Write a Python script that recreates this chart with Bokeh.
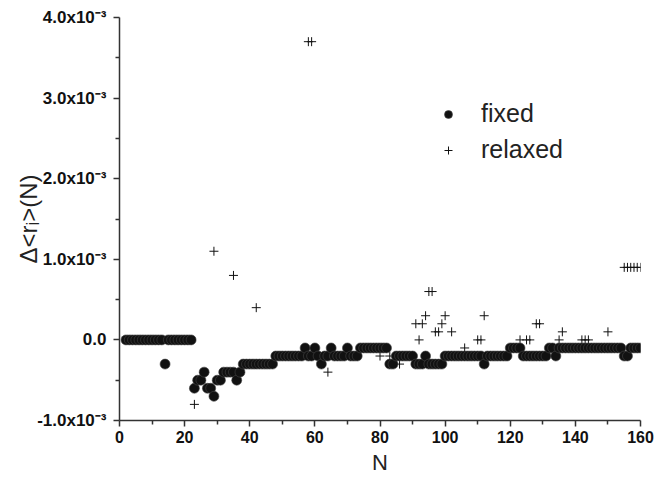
from bokeh.plotting import figure
from bokeh.models import FixedTicker, Legend, LegendItem
from bokeh.embed import file_html
from bokeh.resources import INLINE

# ---- data (values in units of 1e-3) ----
fixed_n = list(range(2, 161))
fixed_v = [
    0, 0, 0, 0, 0, 0, 0, 0, 0, 0, 0, 0,          # 2-13
    -0.3,                                          # 14
    0, 0, 0, 0, 0, 0, 0, 0,                        # 15-22
    -0.6, -0.5, -0.5, -0.4, -0.6, -0.6, -0.7,      # 23-29
    -0.5, -0.5, -0.4, -0.4, -0.4, -0.4, -0.5, -0.4,  # 30-37
    -0.3, -0.3, -0.3, -0.3, -0.3, -0.3, -0.3, -0.3, -0.3, -0.3,  # 38-47
    -0.2, -0.2, -0.2, -0.2, -0.2, -0.2, -0.2, -0.2, -0.2,  # 48-56
    -0.1, -0.2, -0.2, -0.1, -0.2, -0.3, -0.2, -0.2, -0.1,  # 57-65
    -0.2, -0.2, -0.2, -0.2, -0.1, -0.2, -0.2, -0.2,  # 66-73
    -0.1, -0.1, -0.1, -0.1, -0.1, -0.1, -0.1, -0.1, -0.1,  # 74-82
    -0.3, -0.3,                                    # 83-84
    -0.2, -0.2, -0.2, -0.2, -0.2, -0.2,            # 85-90
    -0.3, -0.3, -0.3, -0.2, -0.3, -0.3, -0.3, -0.3, -0.3,  # 91-99
    -0.2, -0.2, -0.2, -0.2, -0.2, -0.2, -0.2, -0.2, -0.2, -0.2, -0.2, -0.2,  # 100-111
    -0.3,                                          # 112
    -0.2, -0.2, -0.2, -0.2, -0.2, -0.2, -0.2,      # 113-119
    -0.1, -0.1, -0.1, -0.1,                        # 120-123
    -0.2, -0.2, -0.2, -0.2, -0.2, -0.2, -0.2, -0.2,  # 124-131
    -0.1, -0.1, -0.2,                              # 132-134
    -0.1, -0.1, -0.1, -0.1, -0.1, -0.1, -0.1, -0.1, -0.1, -0.1,  # 135-144
    -0.1, -0.1, -0.1, -0.1, -0.1, -0.1, -0.1, -0.1, -0.1, -0.1,  # 145-154
    -0.2, -0.2,                                    # 155-156
    -0.1, -0.1, -0.1, -0.1,                        # 157-160
]

relaxed_n = [23, 29, 35, 42, 58, 59, 64, 80, 83, 86, 91, 92, 93, 94, 95, 96, 97, 98,
             99, 100, 102, 106, 110, 111, 112, 123, 125, 126, 128, 129, 135, 136,
             142, 143, 144, 150, 155, 156, 157, 158, 159, 160]
relaxed_v = [-0.8, 1.1, 0.8, 0.4, 3.7, 3.7, -0.4, -0.2, -0.2, -0.3, 0.2, 0.0, 0.2, 0.3,
             0.6, 0.6, 0.1, 0.1, 0.2, 0.3, 0.1, -0.1, 0.0, 0.0, 0.3, 0.0, 0.0, 0.0,
             0.2, 0.2, 0.0, 0.1, 0.0, 0.0, 0.0, 0.1, 0.9, 0.9, 0.9, 0.9, 0.9, 0.9]

x_ticks = [0, 20, 40, 60, 80, 100, 120, 140, 160]
x_minor = [10, 30, 50, 70, 90, 110, 130, 150]
y_ticks = [-1, 0, 1, 2, 3, 4]
y_minor = [-0.5, 0.5, 1.5, 2.5, 3.5]
y_tick_labels = ["-1.0x10⁻³", "0.0", "1.0x10⁻³", "2.0x10⁻³", "3.0x10⁻³", "4.0x10⁻³"]

FONT = "Liberation Sans"
AXC = "#333333"

p = figure(width=661, height=477, x_range=(0, 160), y_range=(-1, 4),
           output_backend="svg", toolbar_location=None,
           min_border_left=119, min_border_right=21, min_border_top=17, min_border_bottom=57)
p.outline_line_color = None
p.grid.visible = False

for ax in (p.xaxis[0], p.yaxis[0]):
    ax.axis_line_color = AXC
    ax.axis_line_width = 1.5
    ax.major_tick_line_color = AXC
    ax.minor_tick_line_color = AXC
    ax.major_tick_line_width = 1.5
    ax.minor_tick_line_width = 1.5
    ax.major_tick_out = 6
    ax.major_tick_in = 0
    ax.minor_tick_out = 4
    ax.minor_tick_in = 0
    ax.major_label_text_font = FONT
    ax.major_label_text_font_style = "bold"
    ax.major_label_text_color = "#111111"
    ax.axis_label_text_font = FONT
    ax.axis_label_text_font_style = "normal"
    ax.axis_label_text_color = "#222222"

p.xaxis.ticker = FixedTicker(ticks=x_ticks, minor_ticks=x_minor)
p.xaxis.major_label_text_font_size = "16px"
p.xaxis.major_label_standoff = 4
p.xaxis.axis_label = "N"
p.xaxis.axis_label_text_font_size = "22px"
p.xaxis.axis_label_standoff = 4

p.yaxis.ticker = FixedTicker(ticks=y_ticks, minor_ticks=y_minor)
p.yaxis.major_label_overrides = {t: s for t, s in zip(y_ticks, y_tick_labels)}
p.yaxis.major_label_text_font_size = "17px"
p.yaxis.major_label_standoff = 7
p.yaxis.axis_label = "Δ<rᵢ>(N)"
p.yaxis.axis_label_text_font_size = "24px"
p.yaxis.axis_label_standoff = -8

r_rel = p.scatter(relaxed_n, relaxed_v, marker="cross", size=9,
                  line_color="#111111", line_width=1)
r_fix = p.scatter(fixed_n, fixed_v, marker="circle", size=10,
                  fill_color="#111111", line_color="#444444", line_width=0.6)

legend = Legend(items=[LegendItem(label="fixed", renderers=[r_fix]),
                       LegendItem(label="relaxed", renderers=[r_rel])],
                location=(319, 256), border_line_color=None, background_fill_alpha=0,
                padding=0, margin=0, spacing=7, glyph_width=20, glyph_height=20,
                label_height=20, label_standoff=23, label_text_font=FONT,
                label_text_font_size="25px", label_text_color="#222222")
p.add_layout(legend)

open("out.html", "w").write(file_html(p, INLINE))
